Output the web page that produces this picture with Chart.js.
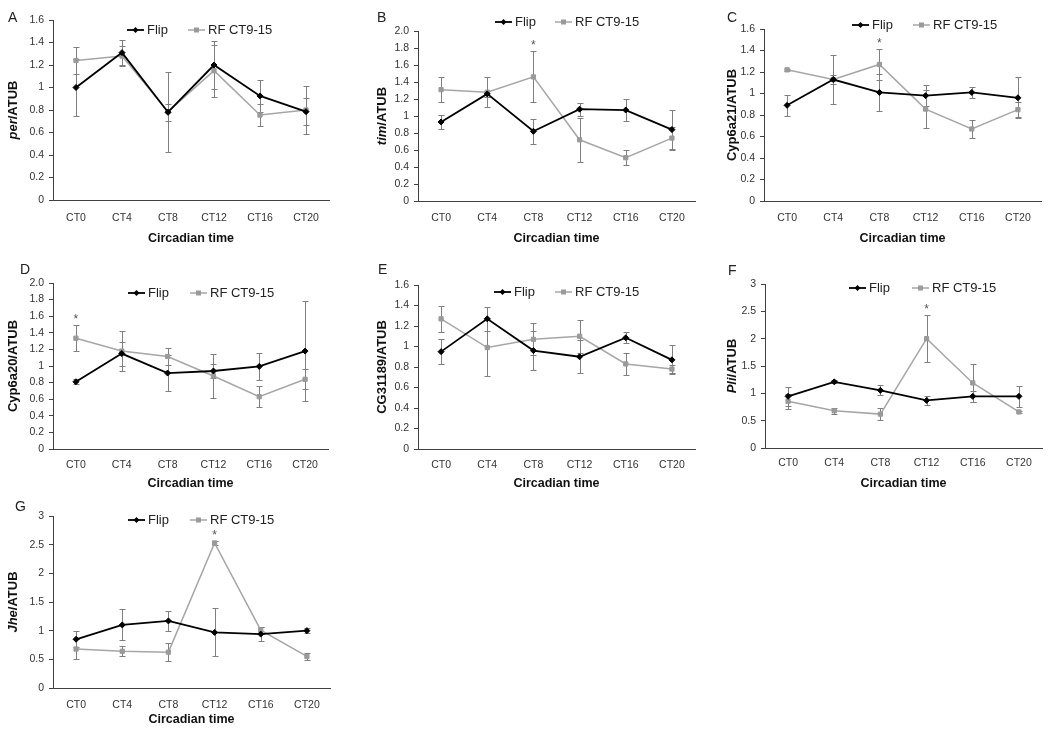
<!DOCTYPE html>
<html><head><meta charset="utf-8">
<script src="https://cdn.jsdelivr.net/npm/chart.js@4"></script>
<style>
html,body{margin:0;padding:0;background:#fff;}
#wrap{position:relative;width:1050px;height:733px;overflow:hidden;background:#fff;}
canvas{position:absolute;}
.lbl{position:absolute;font:14px "Liberation Sans",Arial,sans-serif;color:#222;line-height:1;}
</style></head><body><div id="wrap"></div>
<script>
// ---------- DATA ----------
const categories = ['CT0','CT4','CT8','CT12','CT16','CT20'];
const seriesNames = ['Flip','RF CT9-15'];
const xTitleText = 'Circadian time';
const panelLetters = ['A','B','C','D','E','F','G'];

// A: per/ATUB
const flipA    = [1.00, 1.31, 0.78, 1.20, 0.925, 0.785];
const flipErrA = [0.25, 0.11, 0.075, 0.21, 0.145, 0.12];
const rfA      = [1.24, 1.28, 0.785, 1.15, 0.755, 0.80];
const rfErrA   = [0.12, 0.09, 0.355, 0.23, 0.095, 0.21];
const sigA     = [];
// B: tim/ATUB
const flipB    = [0.93, 1.26, 0.82, 1.08, 1.07, 0.84];
const flipErrB = [0.08, 0.04, 0.15, 0.075, 0.13, 0.235];
const rfB      = [1.31, 1.28, 1.46, 0.72, 0.51, 0.74];
const rfErrB   = [0.15, 0.18, 0.30, 0.26, 0.085, 0.13];
const sigB     = [2];
// C: Cyp6a21/ATUB
const flipC    = [0.89, 1.13, 1.01, 0.98, 1.01, 0.96];
const flipErrC = [0.10, 0.04, 0.17, 0.10, 0.055, 0.19];
const rfC      = [1.22, 1.13, 1.27, 0.855, 0.67, 0.85];
const rfErrC   = [0.01, 0.225, 0.14, 0.18, 0.085, 0.07];
const sigC     = [2];
// D: Cyp6a20/ATUB
const flipD    = [0.81, 1.15, 0.915, 0.94, 0.995, 1.18];
const flipErrD = [0.03, 0.145, 0.22, 0.08, 0.16, 0.60];
const rfD      = [1.335, 1.18, 1.115, 0.88, 0.63, 0.84];
const rfErrD   = [0.155, 0.245, 0.10, 0.26, 0.125, 0.12];
const sigD     = [0];
// E: CG31189/ATUB
const flipE    = [0.95, 1.27, 0.96, 0.90, 1.085, 0.87];
const flipErrE = [0.12, 0.12, 0.19, 0.16, 0.055, 0.14];
const rfE      = [1.27, 0.99, 1.07, 1.10, 0.83, 0.78];
const rfErrE   = [0.13, 0.28, 0.155, 0.16, 0.105, 0.04];
const sigE     = [];
// F: Pli/ATUB
const flipF    = [0.945, 1.21, 1.055, 0.87, 0.945, 0.945];
const flipErrF = [0.17, 0.03, 0.09, 0.09, 0.10, 0.19];
const rfF      = [0.855, 0.68, 0.62, 2.00, 1.19, 0.66];
const rfErrF   = [0.14, 0.05, 0.11, 0.43, 0.35, 0.02];
const sigF     = [3];
// G: Jhe/ATUB
const flipG    = [0.85, 1.10, 1.17, 0.97, 0.94, 1.00];
const flipErrG = [0.14, 0.27, 0.17, 0.42, 0.12, 0.04];
const rfG      = [0.68, 0.64, 0.625, 2.53, 1.01, 0.55];
const rfErrG   = [0.17, 0.09, 0.155, 0.04, 0.06, 0.06];
const sigG     = [3];

// tick labels
const ticks16 = ['0','0.2','0.4','0.6','0.8','1','1.2','1.4','1.6'];
const ticks20 = ['0','0.2','0.4','0.6','0.8','1','1.2','1.4','1.6','1.8','2.0'];
const ticks3  = ['0','0.5','1','1.5','2','2.5','3'];

// y-axis titles: [text, italic]
const yTitleA = [['per', true], ['/ATUB', false]];
const yTitleB = [['tim', true], ['/ATUB', false]];
const yTitleC = [['Cyp6a21/ATUB', false]];
const yTitleD = [['Cyp6a20/ATUB', false]];
const yTitleE = [['CG31189/ATUB', false]];
const yTitleF = [['Pli', true], ['/ATUB', false]];
const yTitleG = [['Jhe', true], ['/ATUB', false]];

const panels = [
  {flip:flipA, flipErr:flipErrA, rf:rfA, rfErr:rfErrA, sig:sigA, max:1.6, step:0.2, ticks:ticks16, yTitle:yTitleA},
  {flip:flipB, flipErr:flipErrB, rf:rfB, rfErr:rfErrB, sig:sigB, max:2.0, step:0.2, ticks:ticks20, yTitle:yTitleB},
  {flip:flipC, flipErr:flipErrC, rf:rfC, rfErr:rfErrC, sig:sigC, max:1.6, step:0.2, ticks:ticks16, yTitle:yTitleC},
  {flip:flipD, flipErr:flipErrD, rf:rfD, rfErr:rfErrD, sig:sigD, max:2.0, step:0.2, ticks:ticks20, yTitle:yTitleD},
  {flip:flipE, flipErr:flipErrE, rf:rfE, rfErr:rfErrE, sig:sigE, max:1.6, step:0.2, ticks:ticks16, yTitle:yTitleE},
  {flip:flipF, flipErr:flipErrF, rf:rfF, rfErr:rfErrF, sig:sigF, max:3, step:0.5, ticks:ticks3, yTitle:yTitleF},
  {flip:flipG, flipErr:flipErrG, rf:rfG, rfErr:rfErrG, sig:sigG, max:3, step:0.5, ticks:ticks3, yTitle:yTitleG}
];

// ---------- LAYOUT (page pixels) ----------
const layouts = [
  {box:[0,0,350,245],     plot:[53,20,329,200],   yTitleX:13,  legend:[127,30,188],  tickPad:12, titlePad:0, letter:[8,10]},
  {box:[350,0,350,245],   plot:[418,31,695,201],  yTitleX:382, legend:[495,22,555],  tickPad:11, titlePad:0, letter:[377,10]},
  {box:[700,0,350,245],   plot:[764,29,1041,201], yTitleX:732, legend:[852,25,913],  tickPad:11, titlePad:0, letter:[727,10]},
  {box:[0,245,350,245],   plot:[53,283,328,449],  yTitleX:13,  legend:[128,293,190], tickPad:10, titlePad:0, letter:[20,262]},
  {box:[350,245,350,245], plot:[418,285,695,449], yTitleX:382, legend:[494,292,555], tickPad:10, titlePad:0, letter:[378,262]},
  {box:[700,245,350,245], plot:[765,284,1042,448],yTitleX:732, legend:[849,288,912], tickPad:9,  titlePad:0, letter:[728,263]},
  {box:[0,490,350,243],   plot:[53,516,330,688],  yTitleX:13,  legend:[128,520,190], tickPad:11, titlePad:7, letter:[15,499]}
];

const FONT = '"Liberation Sans", Arial, sans-serif';
const FLIP_COLOR = '#000000';
const RF_COLOR = '#a6a6a6';
const RF_MARK = '#9a9a9a';
const ERR_COLOR = '#7f7f7f';
const AXIS_COLOR = '#404040';

function drawMarker(ctx, style, x, y, r, color){
  ctx.save();
  ctx.fillStyle = color;
  ctx.beginPath();
  if (style === 'rectRot') {
    ctx.moveTo(x, y - r); ctx.lineTo(x + r, y); ctx.lineTo(x, y + r); ctx.lineTo(x - r, y);
  } else {
    ctx.rect(x - r + 0.5, y - r + 0.5, 2 * r - 1, 2 * r - 1);
  }
  ctx.closePath();
  ctx.fill();
  ctx.restore();
}

const panelPlugin = {
  id: 'panelPlugin',
  beforeDatasetsDraw(chart) {
    const ctx = chart.ctx, ys = chart.scales.y;
    ctx.save();
    ctx.strokeStyle = ERR_COLOR;
    ctx.lineWidth = 1;
    chart.data.datasets.forEach((ds, di) => {
      const meta = chart.getDatasetMeta(di);
      meta.data.forEach((pt, i) => {
        const v = ds.data[i], e = ds.errors[i];
        const x = Math.round(pt.x) + 0.5;
        const yt = Math.round(ys.getPixelForValue(v + e)) + 0.5;
        const yb = Math.round(ys.getPixelForValue(v - e)) + 0.5;
        ctx.beginPath();
        ctx.moveTo(x, yt); ctx.lineTo(x, yb);
        ctx.moveTo(x - 3, yt); ctx.lineTo(x + 3, yt);
        ctx.moveTo(x - 3, yb); ctx.lineTo(x + 3, yb);
        ctx.stroke();
      });
    });
    ctx.restore();
  },
  afterDatasetsDraw(chart, args, opts) {
    const ctx = chart.ctx, ys = chart.scales.y;
    // significance asterisks
    ctx.save();
    ctx.fillStyle = '#555';
    ctx.font = '12px ' + FONT;
    ctx.textAlign = 'center';
    ctx.textBaseline = 'alphabetic';
    (opts.sig || []).forEach(idx => {
      let top = Infinity, x = 0;
      chart.data.datasets.forEach((ds, di) => {
        const pt = chart.getDatasetMeta(di).data[idx];
        x = pt.x;
        top = Math.min(top, ys.getPixelForValue(ds.data[idx] + ds.errors[idx]));
      });
      const cy = top - 9;
      ctx.fillText('*', x, cy + 7);
    });
    ctx.restore();
  },
  afterDraw(chart, args, opts) {
    const ctx = chart.ctx;
    // custom legend
    ctx.save();
    ctx.font = '13px ' + FONT;
    ctx.textBaseline = 'middle';
    ctx.textAlign = 'left';
    const lg = opts.legend;
    chart.data.datasets.forEach((ds, di) => {
      const x0 = lg.xs[di], y = lg.y;
      ctx.strokeStyle = ds.borderColor;
      ctx.lineWidth = ds.borderWidth;
      ctx.beginPath(); ctx.moveTo(x0, y); ctx.lineTo(x0 + 17, y); ctx.stroke();
      drawMarker(ctx, ds.pointStyle, x0 + 8.5, y, 3, ds.pointBackgroundColor);
      ctx.fillStyle = '#222';
      ctx.fillText(ds.label, x0 + 20, y + 0.5);
    });
    ctx.restore();
    // y-axis title (mixed italic)
    const area = chart.chartArea;
    const parts = opts.yTitle.parts;
    ctx.save();
    ctx.fillStyle = '#111';
    ctx.textBaseline = 'middle';
    ctx.textAlign = 'left';
    const fonts = parts.map(p => (p[1] ? 'italic ' : '') + 'bold 13px ' + FONT);
    let total = 0;
    const widths = parts.map((p, i) => { ctx.font = fonts[i]; const w = ctx.measureText(p[0]).width; total += w; return w; });
    ctx.translate(opts.yTitle.x, (area.top + area.bottom) / 2);
    ctx.rotate(-Math.PI / 2);
    let cx = -total / 2;
    parts.forEach((p, i) => { ctx.font = fonts[i]; ctx.fillText(p[0], cx, 0); cx += widths[i]; });
    ctx.restore();
  }
};

const wrap = document.getElementById('wrap');
panels.forEach((p, k) => {
  const L = layouts[k];
  const [bx, by, bw, bh] = L.box;
  const [pl, pt, pr, pb] = L.plot;
  const cv = document.createElement('canvas');
  cv.width = bw; cv.height = bh;
  cv.style.left = bx + 'px'; cv.style.top = by + 'px';
  cv.style.width = bw + 'px'; cv.style.height = bh + 'px';
  wrap.appendChild(cv);

  const letter = document.createElement('div');
  letter.className = 'lbl';
  letter.textContent = panelLetters[k];
  letter.style.left = L.letter[0] + 'px';
  letter.style.top = L.letter[1] + 'px';
  wrap.appendChild(letter);

  new Chart(cv, {
    type: 'line',
    data: {
      labels: categories,
      datasets: [
        {label: seriesNames[0], data: p.flip, errors: p.flipErr, borderColor: FLIP_COLOR, borderWidth: 1.8,
         pointStyle: 'rectRot', pointRadius: 3, pointBackgroundColor: FLIP_COLOR, pointBorderColor: FLIP_COLOR, pointBorderWidth: 1, tension: 0},
        {label: seriesNames[1], data: p.rf, errors: p.rfErr, borderColor: RF_COLOR, borderWidth: 1.5,
         pointStyle: 'rect', pointRadius: 3, pointBackgroundColor: RF_MARK, pointBorderColor: RF_MARK, pointBorderWidth: 1, tension: 0}
      ]
    },
    options: {
      responsive: false,
      animation: false,
      devicePixelRatio: 1,
      layout: {padding: {left: 0, bottom: 0, top: pt - by, right: bx + bw - pr}},
      plugins: {
        legend: {display: false},
        tooltip: {enabled: false},
        panelPlugin: {
          sig: p.sig,
          legend: {xs: [L.legend[0] - bx, L.legend[2] - bx], y: L.legend[1] - by},
          yTitle: {parts: p.yTitle, x: L.yTitleX - bx}
        }
      },
      scales: {
        x: {
          type: 'category',
          offset: true,
          grid: {display: false, drawTicks: false},
          border: {display: true, color: AXIS_COLOR, width: 1},
          ticks: {padding: L.tickPad, color: '#333', font: {family: FONT, size: 10.5}, maxRotation: 0, autoSkip: false},
          title: {display: true, text: xTitleText, color: '#111', font: {family: FONT, size: 12.5, weight: 'bold', lineHeight: 1},
                  padding: {top: 0, bottom: L.titlePad}},
          afterFit(scale) { scale.height = by + bh - pb; }
        },
        y: {
          min: 0, max: p.max,
          ticks: {stepSize: p.step, padding: 5, color: '#333', font: {family: FONT, size: 10.5},
                  callback: (v, i) => p.ticks[i]},
          grid: {display: true, drawOnChartArea: false, drawTicks: true, tickLength: 4, color: AXIS_COLOR},
          border: {display: true, color: AXIS_COLOR, width: 1},
          afterFit(scale) { scale.width = pl - bx; }
        }
      }
    },
    plugins: [panelPlugin]
  });
});
</script></body></html>
